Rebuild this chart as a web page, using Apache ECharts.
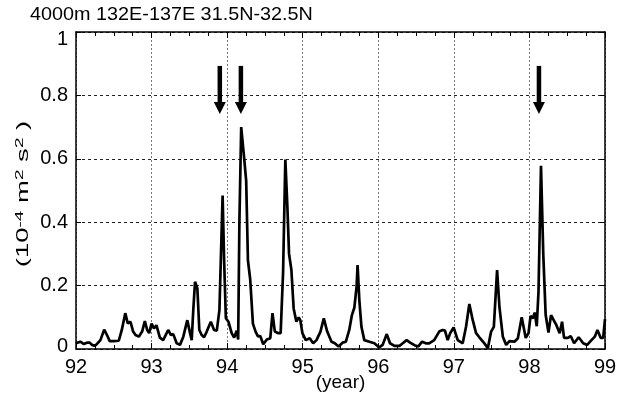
<!DOCTYPE html>
<html>
<head>
<meta charset="utf-8">
<script src="https://cdn.jsdelivr.net/npm/echarts@6/dist/echarts.min.js"></script>
<style>
  html, body { margin: 0; background: #fff; }
  #chart { width: 622px; height: 396px; }
</style>
</head>
<body>
<div id="chart"></div>
<script>
// time axis in years (92 = 1992), values in 10^-4 m^2 s^-2
const years = [
  92.000, 92.057, 92.101, 92.145, 92.181, 92.211, 92.247, 92.278, 92.323, 92.373,
  92.410, 92.446, 92.499, 92.566, 92.606, 92.652, 92.685, 92.721, 92.756, 92.788,
  92.831, 92.875, 92.911, 92.942, 92.968, 93.000, 93.031, 93.064, 93.110, 93.154,
  93.220, 93.256, 93.287, 93.332, 93.376, 93.420, 93.473, 93.509, 93.531, 93.552,
  93.575, 93.606, 93.632, 93.664, 93.695, 93.730, 93.784, 93.827, 93.863, 93.898,
  93.940, 93.960, 93.983, 94.017, 94.060, 94.093, 94.126, 94.146, 94.162, 94.186,
  94.226, 94.252, 94.275, 94.305, 94.341, 94.376, 94.408, 94.438, 94.478, 94.525,
  94.571, 94.600, 94.631, 94.677, 94.708, 94.740, 94.770, 94.797, 94.819, 94.850,
  94.880, 94.916, 94.947, 94.969, 94.996, 95.040, 95.093, 95.138, 95.182, 95.235,
  95.279, 95.324, 95.381, 95.425, 95.474, 95.527, 95.571, 95.616, 95.651, 95.683,
  95.713, 95.726, 95.749, 95.777, 95.815, 95.882, 95.948, 96.012, 96.058, 96.112,
  96.155, 96.214, 96.280, 96.324, 96.375, 96.421, 96.479, 96.530, 96.580, 96.630,
  96.673, 96.740, 96.806, 96.851, 96.882, 96.918, 96.952, 96.997, 97.051, 97.117,
  97.161, 97.205, 97.250, 97.294, 97.337, 97.404, 97.449, 97.493, 97.529, 97.572,
  97.603, 97.648, 97.692, 97.736, 97.802, 97.847, 97.898, 97.951, 97.988, 98.015,
  98.046, 98.070, 98.097, 98.120, 98.153, 98.183, 98.215, 98.252, 98.286, 98.323,
  98.356, 98.400, 98.432, 98.458, 98.511, 98.546, 98.591, 98.652, 98.711, 98.764,
  98.821, 98.865, 98.900, 98.944, 98.976, 99.000
];
const values = [
  0.018, 0.023, 0.016, 0.020, 0.020, 0.013, 0.010, 0.016, 0.028, 0.061,
  0.044, 0.025, 0.025, 0.026, 0.060, 0.113, 0.081, 0.086, 0.055, 0.044,
  0.039, 0.055, 0.088, 0.060, 0.050, 0.080, 0.065, 0.075, 0.036, 0.028,
  0.060, 0.044, 0.047, 0.018, 0.013, 0.039, 0.091, 0.050, 0.028, 0.123,
  0.212, 0.191, 0.060, 0.044, 0.037, 0.055, 0.086, 0.060, 0.058, 0.123,
  0.484, 0.280, 0.097, 0.086, 0.050, 0.036, 0.058, 0.030, 0.400, 0.700,
  0.600, 0.530, 0.280, 0.220, 0.080, 0.055, 0.040, 0.041, 0.015, 0.030,
  0.034, 0.113, 0.055, 0.050, 0.050, 0.240, 0.598, 0.449, 0.300, 0.250,
  0.128, 0.086, 0.100, 0.090, 0.050, 0.028, 0.034, 0.018, 0.028, 0.055,
  0.097, 0.055, 0.023, 0.018, 0.008, 0.020, 0.023, 0.060, 0.107, 0.130,
  0.197, 0.265, 0.155, 0.070, 0.028, 0.023, 0.018, 0.005, 0.013, 0.047,
  0.018, 0.010, 0.010, 0.018, 0.028, 0.020, 0.012, 0.008, 0.023, 0.018,
  0.018, 0.028, 0.055, 0.060, 0.058, 0.028, 0.050, 0.068, 0.028, 0.018,
  0.070, 0.142, 0.091, 0.050, 0.037, 0.018, 0.002, 0.055, 0.070, 0.249,
  0.133, 0.039, 0.013, 0.025, 0.023, 0.034, 0.100, 0.035, 0.050, 0.104,
  0.097, 0.115, 0.072, 0.180, 0.578, 0.300, 0.107, 0.052, 0.107, 0.090,
  0.076, 0.050, 0.086, 0.035, 0.035, 0.041, 0.018, 0.037, 0.018, 0.013,
  0.028, 0.039, 0.060, 0.035, 0.035, 0.094
];
// arrows marking events
const arrowYears = [93.903, 94.182, 98.126];
const arrowTop = 0.893;
const arrowTip = 0.741;

const titleText = '4000m 132E-137E 31.5N-32.5N';
const xName = '(year)';
// y label pieces: normal text and superscripts
const yNameRich = '{n|(10}{s|-4}{n| m}{s|2}{n| s}{s|2}{n| )}';

const font = 'Liberation Sans, Arial, Helvetica, sans-serif';
const chart = echarts.init(document.getElementById('chart'));

const xCommon = {
  type: 'value', min: 92, max: 99, interval: 1,
  axisLine: { show: true, onZero: false, lineStyle: { color: '#000', width: 1.5 } },
  axisTick: { show: true, inside: true, length: 6, lineStyle: { color: '#000', width: 1 } },
  minorTick: { show: true, splitNumber: 4, length: 4, lineStyle: { color: '#000', width: 1 } }
};
const yCommon = {
  type: 'value', min: 0, max: 1, interval: 0.2,
  axisLine: { show: true, onZero: false, lineStyle: { color: '#000', width: 1.5 } },
  axisTick: { show: true, inside: true, length: 5, lineStyle: { color: '#000', width: 1 } }
};

chart.setOption({
  backgroundColor: '#fff',
  animation: false,
  graphic: [
    {
      type: 'text', x: 30, y: 15, scaleX: 1.1,
      style: { text: titleText, fontFamily: font, fontSize: 18, fill: '#000', verticalAlign: 'middle' }
    },
    {
      type: 'text', x: 24, y: 194, rotation: Math.PI / 2, scaleX: 1.72,
      style: {
        text: yNameRich, fontFamily: font, fill: '#000', align: 'center', verticalAlign: 'middle',
        rich: {
          n: { fontFamily: font, fontSize: 16, lineHeight: 20, fill: '#000' },
          s: { fontFamily: font, fontSize: 11, lineHeight: 11, verticalAlign: 'top', fill: '#000' }
        }
      }
    }
  ],
  grid: { left: 76, right: 17, top: 32, bottom: 47, outerBoundsMode: 'none' },
  xAxis: [
    Object.assign({}, xCommon, {
      position: 'bottom',
      name: xName, nameLocation: 'middle', nameGap: 24, nameMoveOverlap: false,
      nameTextStyle: { fontFamily: font, fontSize: 19, color: '#000', verticalAlign: 'top' },
      axisLabel: { fontFamily: font, fontSize: 20, color: '#000', margin: 8 },
      splitLine: { show: true, lineStyle: { color: '#777', width: 1, type: [2, 2] } }
    }),
    Object.assign({}, xCommon, {
      position: 'top',
      axisLabel: { show: false },
      splitLine: { show: false }
    })
  ],
  yAxis: [
    Object.assign({}, yCommon, {
      position: 'left',
      axisLabel: {
        fontFamily: font, fontSize: 20, color: '#000', margin: 8,
        formatter: v => v === 1 ? '{mx|1}' : v === 0 ? '{mn|0}' : String(v),
        rich: {
          mx: { fontFamily: font, fontSize: 20, color: '#000', padding: [14, 0, 0, 0] },
          mn: { fontFamily: font, fontSize: 20, color: '#000', padding: [0, 0, 6, 0] }
        }
      },
      splitLine: { show: true, lineStyle: { color: '#222', width: 1, type: [3, 3] } }
    }),
    Object.assign({}, yCommon, {
      position: 'right',
      axisLabel: { show: false },
      splitLine: { show: false }
    })
  ],
  series: [
    {
      type: 'line',
      data: years.map((y, i) => [y, values[i]]),
      showSymbol: false,
      lineStyle: { color: '#000', width: 2.7 },
      z: 3
    },
    {
      type: 'custom',
      data: arrowYears.map(y => [y, arrowTip]),
      renderItem: (params, api) => {
        const x = api.value(0);
        const top = api.coord([x, arrowTop]);
        const tip = api.coord([x, arrowTip]);
        const headLen = 12, headW = 12, shaftW = 4.5;
        return {
          type: 'group',
          children: [
            { type: 'rect',
              shape: { x: top[0] - shaftW / 2, y: top[1], width: shaftW, height: tip[1] - top[1] - headLen + 1 },
              style: { fill: '#000' } },
            { type: 'polygon',
              shape: { points: [[tip[0] - headW / 2, tip[1] - headLen], [tip[0] + headW / 2, tip[1] - headLen], [tip[0], tip[1]]] },
              style: { fill: '#000' } }
          ]
        };
      },
      z: 4
    }
  ]
});
</script>
</body>
</html>
